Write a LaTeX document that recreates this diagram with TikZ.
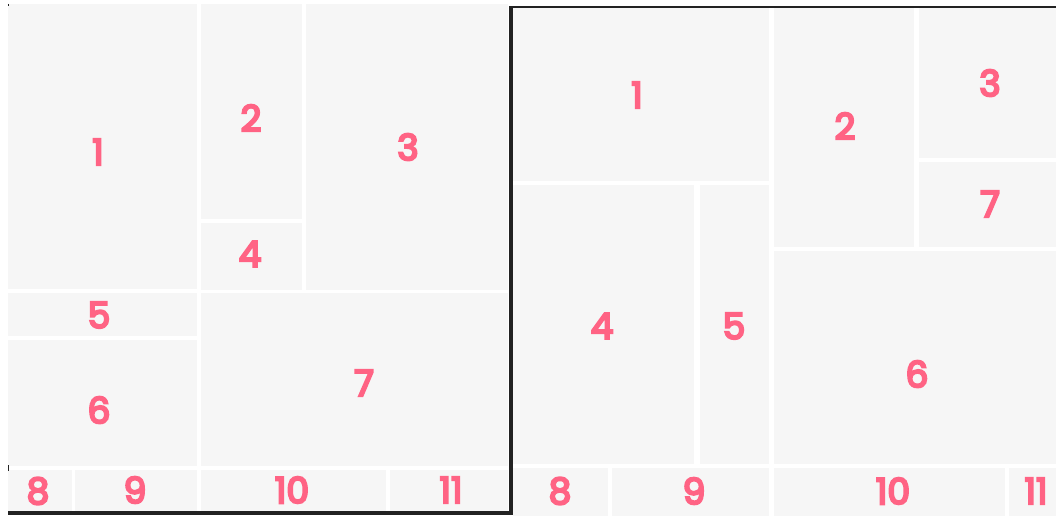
\documentclass[tikz,border=0pt]{standalone}
\usepackage{fontspec}
\setmainfont{Poppins}
\newfontfamily\numfont{Poppins}[FakeBold=6]
\definecolor{cell}{HTML}{F6F6F6}
\definecolor{lbl}{HTML}{FF6384}
\definecolor{frame}{HTML}{222222}
\begin{document}
\begin{tikzpicture}[x=0.75pt,y=-0.75pt,
  cellbox/.style={fill=cell,draw=none},
  num/.style={text=lbl,font=\numfont\fontsize{27}{30}\selectfont,inner sep=0pt,anchor=center},
  frameline/.style={draw=frame,line width=3pt}]
\useasboundingbox[fill=white] (0,0) rectangle (1056,516);
% ---- left panel ----
\fill[cell] (8,4) rectangle (197,289);
\fill[cell] (201,4) rectangle (302,219);
\fill[cell] (201,223) rectangle (302,290);
\fill[cell] (306,4) rectangle (508,290);
\fill[cell] (8,293) rectangle (197,336);
\fill[cell] (8,340) rectangle (197,466);
\fill[cell] (201,293) rectangle (508,466);
\fill[cell] (8,470) rectangle (72,511);
\fill[cell] (75,470) rectangle (197,511);
\fill[cell] (201,470) rectangle (386,511);
\fill[cell] (390,470) rectangle (508,511);
\node[num] (l1) at (98,152) {1};
\node[num] (l2) at (251,118) {2};
\node[num] (l3) at (408,147) {3};
\node[num] (l4) at (250,254) {4};
\node[num] (l5) at (99,315) {5};
\node[num] (l6) at (99,410) {6};
\node[num] (l7) at (364,383) {7};
\node[num] (l8) at (38,491) {8};
\node[num] (l9) at (135,490) {9};
\node[num] (l10) at (292,490) {10};
\node[num] (l11) at (451,490) {11};
% ---- right panel ----
\fill[cell] (513,8) rectangle (769,181);
\fill[cell] (774,8) rectangle (914,247);
\fill[cell] (919,8) rectangle (1056,158);
\fill[cell] (919,162) rectangle (1056,247);
\fill[cell] (513,185) rectangle (694,464);
\fill[cell] (700,185) rectangle (769,464);
\fill[cell] (774,251) rectangle (1056,464);
\fill[cell] (513,468) rectangle (608,516);
\fill[cell] (612,468) rectangle (769,516);
\fill[cell] (774,468) rectangle (1005,516);
\fill[cell] (1009,468) rectangle (1056,516);
\node[num] (r1) at (637,95) {1};
\node[num] (r2) at (845,126) {2};
\node[num] (r3) at (990,83) {3};
\node[num] (r7) at (990,204) {7};
\node[num] (r4) at (602,326) {4};
\node[num] (r5) at (734,326) {5};
\node[num] (r6) at (917,374) {6};
\node[num] (r8) at (560,491) {8};
\node[num] (r9) at (694,491) {9};
\node[num] (r10) at (893,491) {10};
\node[num] (r11) at (1036,491) {11};
% ---- frame lines ----
\draw[frameline] (511,7) -- (511,514);
\draw[frameline] (8,512.5) -- (513,512.5);
\draw[draw=frame,line width=1.8pt] (509,7) -- (1056,7);
\draw[draw=frame,line width=1pt] (8.5,4) -- (8.5,6);
\draw[draw=frame,line width=1pt] (8.5,465) -- (8.5,471);
\end{tikzpicture}
\end{document}
